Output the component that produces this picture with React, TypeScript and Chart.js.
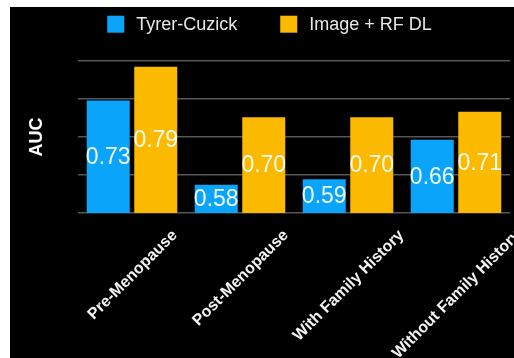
import React, { useEffect, useRef } from "react";
import { Chart, registerables } from "chart.js";

Chart.register(...registerables);

const categories = ["Pre-Menopause", "Post-Menopause", "With Family History", "Without Family History"];
const tyrerCuzick = [0.73, 0.58, 0.59, 0.66];
const imageRfDl = [0.79, 0.7, 0.7, 0.71];
const seriesNames = ["Tyrer-Cuzick", "Image + RF DL"];
const gridTicks = [0.53, 0.5975, 0.665, 0.7325, 0.8];
const yMin = 0.53;
const yMax = 0.8;

const FONT = '"Liberation Sans", Arial, Helvetica, sans-serif';
const BLUE = "#0ba4fb";
const YELLOW = "#fbb900";

const legendPlugin = {
  id: "customLegend",
  afterDraw(chart: any) {
    const ctx = chart.ctx;
    ctx.save();
    ctx.font = `18px ${FONT}`;
    const ds = chart.data.datasets;
    const box = 17;
    const gap = 12;
    const itemGap = 43;
    const widths = ds.map((d: any) => ctx.measureText(d.label).width);
    const total = widths.reduce((a: number, w: number) => a + box + gap + w, 0) + itemGap * (ds.length - 1);
    let x = 259.5 - total / 2;
    const top = 8.7;
    ds.forEach((d: any, i: number) => {
      ctx.fillStyle = d.backgroundColor;
      ctx.fillRect(x, top, box, box);
      ctx.fillStyle = "#e8e8e8";
      ctx.textAlign = "left";
      ctx.textBaseline = "middle";
      ctx.fillText(d.label, x + box + gap, top + box / 2 + 0.5);
      x += box + gap + widths[i] + itemGap;
    });
    ctx.restore();
  },
};

const valueLabelPlugin = {
  id: "valueLabels",
  afterDatasetsDraw(chart: any) {
    const ctx = chart.ctx;
    const bottom = chart.chartArea.bottom;
    ctx.save();
    ctx.font = `23px ${FONT}`;
    ctx.fillStyle = "rgba(255,255,255,0.93)";
    ctx.textAlign = "center";
    ctx.textBaseline = "middle";
    chart.data.datasets.forEach((d: any, di: number) => {
      const meta = chart.getDatasetMeta(di);
      meta.data.forEach((bar: any, i: number) => {
        const v = d.data[i];
        const base = Math.min(bar.base, bottom);
        ctx.fillText(v.toFixed(2), bar.x, (bar.y + base) / 2 + 1);
      });
    });
    ctx.restore();
  },
};

const xLabelPlugin = {
  id: "xLabels",
  afterDraw(chart: any) {
    const ctx = chart.ctx;
    const xs = chart.scales.x;
    ctx.save();
    ctx.font = `bold 16px ${FONT}`;
    ctx.fillStyle = "#f2f2f2";
    ctx.textAlign = "center";
    ctx.textBaseline = "middle";
    const topY = 221;
    const capH = 11.5;
    const s = Math.SQRT1_2;
    (chart.data.labels as string[]).forEach((label: string, i: number) => {
      const x = xs.getPixelForTick(i);
      const w = ctx.measureText(label).width;
      const cy = topY + ((w + capH) * s) / 2;
      ctx.save();
      ctx.translate(x, cy);
      ctx.rotate(-Math.PI / 4);
      ctx.fillText(label, 0, 1);
      ctx.restore();
    });
    ctx.restore();
  },
};

export default function App() {
  const ref = useRef<HTMLCanvasElement | null>(null);

  useEffect(() => {
    if (!ref.current) return;
    const chart = new Chart(ref.current, {
      type: "bar",
      data: {
        labels: categories,
        datasets: [
          { label: seriesNames[0], data: tyrerCuzick, backgroundColor: BLUE, borderWidth: 0 },
          { label: seriesNames[1], data: imageRfDl, backgroundColor: YELLOW, borderWidth: 0 },
        ],
      },
      options: {
        responsive: false,
        animation: false,
        events: [],
        layout: { padding: { top: 54, right: 4, left: 0, bottom: 0 } },
        datasets: { bar: { categoryPercentage: 0.88, barPercentage: 0.905 } },
        plugins: {
          legend: { display: false },
          tooltip: { enabled: false },
          title: { display: false },
        },
        scales: {
          x: {
            grid: { display: false, drawTicks: false },
            border: { display: false },
            ticks: { display: false },
            afterFit: (scale: any) => {
              scale.height = 145;
            },
          },
          y: {
            min: yMin,
            max: yMax,
            grid: { color: "#575757", lineWidth: 1.5, drawTicks: false },
            border: { display: false },
            ticks: { display: false },
            afterBuildTicks: (scale: any) => {
              scale.ticks = gridTicks.map((v) => ({ value: v }));
            },
            afterFit: (scale: any) => {
              scale.width = 68;
            },
            title: {
              display: true,
              text: "AUC",
              color: "#ffffff",
              font: { family: FONT, size: 18, weight: "bold", lineHeight: 1.2 },
              padding: { top: 16, bottom: 4 },
            },
          },
        },
      },
      plugins: [legendPlugin, valueLabelPlugin, xLabelPlugin],
    });
    return () => chart.destroy();
  }, []);

  return (
    <div style={{ position: "absolute", left: 10, top: 7, width: 504, height: 351, background: "#000" }}>
      <canvas ref={ref} width={504} height={351} style={{ display: "block" }} />
    </div>
  );
}
